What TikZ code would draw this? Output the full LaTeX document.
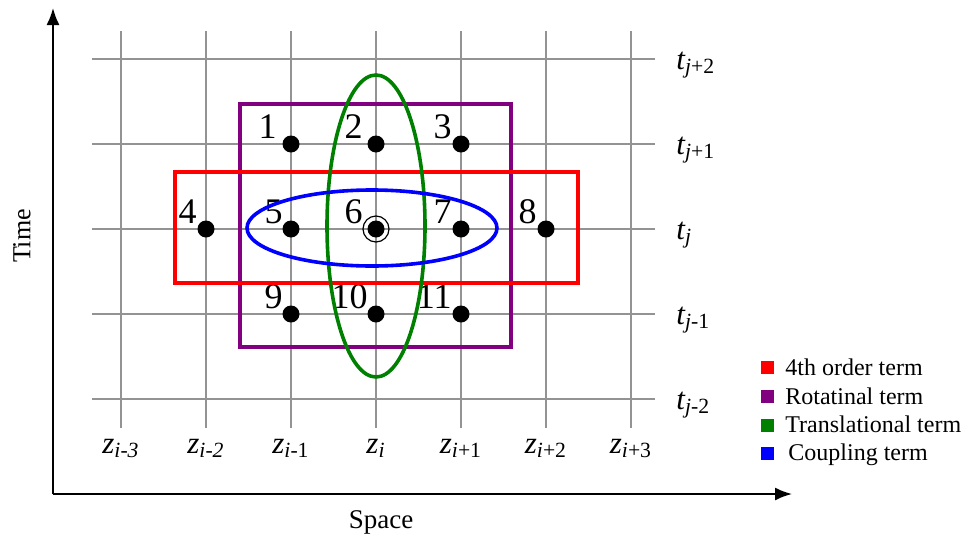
\documentclass[tikz,border=0pt]{standalone}
\usepackage{fontspec}
\setmainfont{Liberation Serif}
\usetikzlibrary{arrows.meta}

\definecolor{ordred}{RGB}{255,0,0}
\definecolor{rotpurple}{RGB}{128,0,128}
\definecolor{transgreen}{RGB}{0,128,0}
\definecolor{coupblue}{RGB}{0,0,255}

\begin{document}
\begin{tikzpicture}[x=0.5pt, y=-0.5pt,
            gridline/.style={gray!85, line width=0.7pt},
            axisline/.style={black, line width=0.9pt, -{Latex[length=8.5pt, width=6.5pt]}},
            dotnode/.style={circle, fill=black, minimum size=8.5pt, inner sep=0pt},
            numlabel/.style={anchor=base east, inner sep=0pt, font=\fontsize{18}{20}\selectfont},
            ticklabel/.style={inner sep=0pt, font=\fontsize{15.5}{17}\selectfont\itshape},
            termline/.style={line width=1.8pt},
            legendbox/.style={minimum size=6.5pt, inner sep=0pt},
            legendtext/.style={anchor=base west, inner sep=0pt, font=\fontsize{12}{14}\selectfont}]
            \useasboundingbox (0,0) rectangle (970,541);
            
            % Grid
            \foreach \x in {121,206,291,376,461,546,631}
                \draw[gridline] (\x,31) -- (\x,428);
            \foreach \y in {59,144,229,314,399}
                \draw[gridline] (92,\y) -- (655,\y);
            
            % Axes
            \coordinate (O) at (53,494);
            \coordinate (Ttop) at (53,8);
            \coordinate (Sright) at (792,494);
            \draw[axisline] (O) -- (Ttop);
            \draw[axisline] (O) -- (Sright);
            \node[rotate=90, font=\fontsize{13}{15}\selectfont] (timelbl) at (22,236) {Time};
            \node[font=\fontsize{13.5}{15}\selectfont] (spacelbl) at (381,522) {Space};
            
            % Stencil points
            \node[dotnode] (p1) at (291,144) {};
            \node[dotnode] (p2) at (376,144) {};
            \node[dotnode] (p3) at (461,144) {};
            \node[dotnode] (p4) at (206,229) {};
            \node[dotnode] (p5) at (291,229) {};
            \node[dotnode] (p6) at (376,229) {};
            \node[dotnode] (p7) at (461,229) {};
            \node[dotnode] (p8) at (546,229) {};
            \node[dotnode] (p9) at (291,314) {};
            \node[dotnode] (p10) at (376,314) {};
            \node[dotnode] (p11) at (461,314) {};
            \draw[black, line width=0.6pt] (p6.center) circle (6.5pt);
            
            \node[numlabel] at ([shift={(-14,-6)}]p1.center) {1};
            \node[numlabel] at ([shift={(-13,-6)}]p2.center) {2};
            \node[numlabel] at ([shift={(-9,-6)}]p3.center) {3};
            \node[numlabel] at ([shift={(-9,-6)}]p4.center) {4};
            \node[numlabel] at ([shift={(-8,-6)}]p5.center) {5};
            \node[numlabel] at ([shift={(-13,-6)}]p6.center) {6};
            \node[numlabel] at ([shift={(-9,-6)}]p7.center) {7};
            \node[numlabel] at ([shift={(-9,-6)}]p8.center) {8};
            \node[numlabel] at ([shift={(-8,-6)}]p9.center) {9};
            \node[numlabel] at ([shift={(-8,-6)}]p10.center) {10};
            \node[numlabel] at ([shift={(-9,-6)}]p11.center) {11};
            
            % Terms
            \draw[termline, rotpurple] (240,104) rectangle (511,347);
            \draw[termline, ordred] (175,172) rectangle (578,283);
            \draw[termline, transgreen] (376,226) ellipse (24.5pt and 75.5pt);
            \draw[termline, coupblue] (372,228) ellipse (62.5pt and 19pt);
            
            % Time labels
            \node[ticklabel, anchor=base west] (tjp2) at (676,69) {t\textsubscript{j\textup{+2}}};
            \node[ticklabel, anchor=base west] (tjp1) at (676,154) {t\textsubscript{j\textup{+1}}};
            \node[ticklabel, anchor=base west] (tj) at (676,239) {t\textsubscript{j}};
            \node[ticklabel, anchor=base west] (tjm1) at (676,324) {t\textsubscript{j\textup{-1}}};
            \node[ticklabel, anchor=base west] (tjm2) at (676,409) {t\textsubscript{j\textup{-2}}};
            
            % Space labels
            \node[ticklabel, anchor=base] (zim3) at (121,453) {z\textsubscript{i-3}};
            \node[ticklabel, anchor=base] (zim2) at (206,453) {z\textsubscript{i-2}};
            \node[ticklabel, anchor=base] (zim1) at (291,453) {z\textsubscript{i\textup{-1}}};
            \node[ticklabel, anchor=base] (zi) at (376,453) {z\textsubscript{i}};
            \node[ticklabel, anchor=base] (zip1) at (461,453) {z\textsubscript{i\textup{+1}}};
            \node[ticklabel, anchor=base] (zip2) at (546,453) {z\textsubscript{i\textup{+2}}};
            \node[ticklabel, anchor=base] (zip3) at (631,453) {z\textsubscript{i\textup{+3}}};
            
            % Legend
            \node[legendbox, fill=ordred] (lgred) at (767,367) {};
            \node[legendbox, fill=rotpurple] (lgpurple) at (767,396) {};
            \node[legendbox, fill=transgreen] (lggreen) at (767,425) {};
            \node[legendbox, fill=coupblue] (lgblue) at (767,453) {};
            \node[legendtext] at (785,375) {4th order term};
            \node[legendtext] at (785,404) {Rotatinal term};
            \node[legendtext] at (785,432) {Translational term};
            \node[legendtext] at (788,460) {Coupling term};
        \end{tikzpicture}
\end{document}
